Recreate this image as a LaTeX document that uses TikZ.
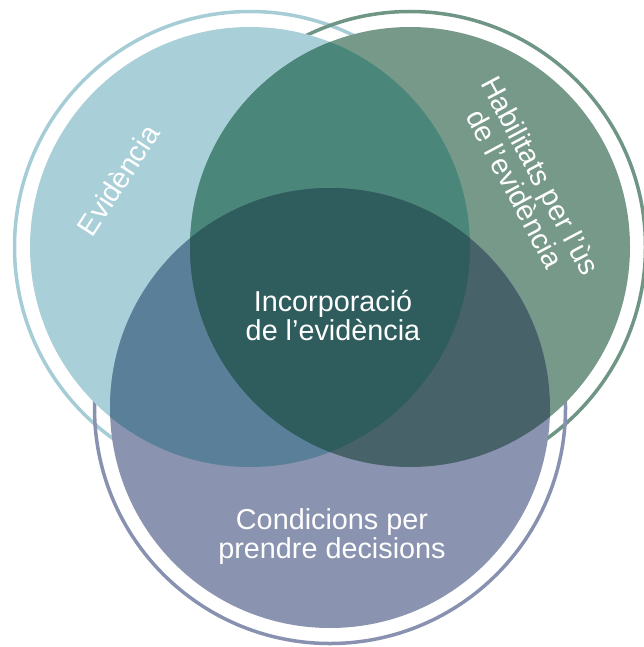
\documentclass[tikz,border=0pt]{standalone}
\usepackage{fontspec}
\setmainfont{Liberation Sans}
\definecolor{cA}{HTML}{A9CFD8}
\definecolor{cB}{HTML}{77998A}
\definecolor{cC}{HTML}{8A93B0}
\definecolor{cAB}{HTML}{4A877A}
\definecolor{cAC}{HTML}{5A7F98}
\definecolor{cBC}{HTML}{476268}
\definecolor{cABC}{HTML}{2F5C5C}
\definecolor{rA}{HTML}{A6CDD6}
\definecolor{rB}{HTML}{6F9585}
\definecolor{rC}{HTML}{8891B0}
\tikzset{
  ring/.style={line width=3.5pt},
  lbl/.style={text=white, font=\fontsize{28.8}{29}\selectfont, align=center, inner sep=0pt}
}
\begin{document}
\begin{tikzpicture}[x=1pt,y=-1pt]
\useasboundingbox (0,0) rectangle (644,647);
\coordinate (A) at (250,247);
\coordinate (B) at (410,247);
\coordinate (C) at (330,408);
% outer rings
\draw[ring, draw=rA] (A) circle[radius=235.5pt];
\draw[ring, draw=rB] (B) circle[radius=235.5pt];
\draw[ring, draw=rC] (C) circle[radius=235.5pt];
% fills
\fill[cA] (A) circle[radius=220pt];
\fill[cB] (B) circle[radius=220pt];
\fill[cC] (C) circle[radius=220pt];
\begin{scope}
  \clip (A) circle[radius=220pt];
  \fill[cAB] (B) circle[radius=220pt];
  \fill[cAC] (C) circle[radius=220pt];
\end{scope}
\begin{scope}
  \clip (B) circle[radius=220pt];
  \fill[cBC] (C) circle[radius=220pt];
  \clip (A) circle[radius=220pt];
  \fill[cABC] (C) circle[radius=220pt];
\end{scope}
% labels
\node[lbl] (center) at (333,316) {Incorporació\\de l’evidència};
\node[lbl, rotate=57] (evid) at (118,180) {Evidència};
\node[lbl, rotate=-62] (hab) at (528,182) {Habilitats per l’ùs\\de l’evidència};
\node[lbl] (cond) at (332,537) {Condicions per\\prendre decisions};
\end{tikzpicture}
\end{document}
